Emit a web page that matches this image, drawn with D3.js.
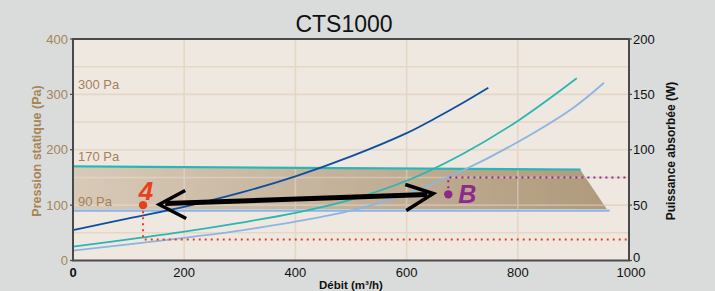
<!DOCTYPE html>
<html>
<head>
<meta charset="utf-8">
<script src="https://cdn.jsdelivr.net/npm/d3@7"></script>
<style>
  body { margin: 0; background: #d9dcdb; }
  svg text { font-family: "Liberation Sans", Arial, Helvetica, sans-serif; }
</style>
</head>
<body>
<div id="chart"></div>
<script>
// ticks
const flowTicks = [0, 200, 400, 600, 800, 1000];
const pressureTicks = [0, 100, 200, 300, 400];
const powerTicks = [0, 50, 100, 150, 200];

// power curves (W) vs débit (m3/h)
const darkQ = [0, 100, 200, 300, 400, 500, 600, 650, 700, 747];
const darkW = [27.5, 38, 48.5, 61, 76, 94, 115, 128, 142, 156];
const tealQ = [0, 100, 200, 300, 400, 500, 600, 700, 800, 906];
const tealW = [12.5, 19, 26, 34, 43, 55, 72, 96, 126, 164.5];
const lightQ = [0, 100, 200, 300, 400, 500, 600, 700, 800, 900, 955];
const lightW = [9, 14.5, 20.5, 27, 35, 45, 60, 81, 107, 138, 160.5];

// pressure lines (Pa)
const pressureLabels = ["300 Pa", "170 Pa", "90 Pa"];
const labelPa = [300, 170, 90];
const line170Q = [0, 913];
const line170P = [170, 164];
const line90Q = [0, 965];
const line90P = [90, 90];
const bandQ = [0, 913, 960, 0];
const bandP = [168, 163, 93, 93];

// annotations
const pointA = { q: 126, p: 100, w: 19, label: "4" };
const pointB = { q: 675, p: 119.5, w: 75, label: "B" };
const arrowQ = [155, 648];
const arrowP = [101, 121];

const width = 715, height = 291;
const svg = d3.select("#chart").append("svg")
    .attr("width", width)
    .attr("height", height);

const x = d3.scaleLinear().domain([0, 1000]).range([73, 629]);
const yP = d3.scaleLinear().domain([0, 400]).range([260.5, 39]);
const yW = d3.scaleLinear().domain([0, 200]).range([260.5, 39]);

const defs = svg.append("defs");
const grad = defs.append("linearGradient")
    .attr("id", "bandGrad")
    .attr("gradientUnits", "userSpaceOnUse")
    .attr("x1", x(0)).attr("x2", x(960)).attr("y1", 0).attr("y2", 0);
grad.append("stop").attr("offset", "0%").attr("stop-color", "#d8cab8");
grad.append("stop").attr("offset", "100%").attr("stop-color", "#b09a7c");

const bandPts = bandQ.map((q, i) => [x(q), yP(bandP[i])]);
defs.append("clipPath").attr("id", "bandClip")
    .append("polygon").attr("points", bandPts.join(" "));

// plot background
svg.append("rect")
    .attr("x", x(0)).attr("y", yP(400))
    .attr("width", x(1000) - x(0)).attr("height", yP(0) - yP(400))
    .attr("fill", "#efe8e1");

function grid(g, color) {
    g.selectAll(".gx").data(flowTicks.slice(1, -1)).enter().append("line")
        .attr("x1", d => x(d)).attr("x2", d => x(d))
        .attr("y1", yP(0)).attr("y2", yP(400))
        .attr("stroke", color).attr("stroke-width", 1.6);
    g.selectAll(".gy").data(d3.range(50, 400, 50)).enter().append("line")
        .attr("x1", x(0)).attr("x2", x(1000))
        .attr("y1", d => yP(d)).attr("y2", d => yP(d))
        .attr("stroke", color).attr("stroke-width", 1.6);
}
grid(svg.append("g"), "#e4d7c5");

// band
svg.append("polygon")
    .attr("points", bandPts.join(" "))
    .attr("fill", "url(#bandGrad)");
grid(svg.append("g").attr("clip-path", "url(#bandClip)").attr("opacity", 0.35), "#f4ece2");

// pressure lines
svg.append("line")
    .attr("x1", x(line170Q[0])).attr("x2", x(line170Q[1]))
    .attr("y1", yP(line170P[0])).attr("y2", yP(line170P[1]))
    .attr("stroke", "#2bb5b3").attr("stroke-width", 2.2);
svg.append("line")
    .attr("x1", x(line90Q[0])).attr("x2", x(line90Q[1]))
    .attr("y1", yP(line90P[0])).attr("y2", yP(line90P[1]))
    .attr("stroke", "#8db5e2").attr("stroke-width", 2.2);

svg.selectAll(".plabel").data(pressureLabels).enter().append("text")
    .attr("x", x(0) + 5)
    .attr("y", (d, i) => yP(labelPa[i]) - 5)
    .attr("font-size", 13)
    .attr("fill", "#a3825a")
    .text(d => d);

// power curves
const line = d3.line().curve(d3.curveCatmullRom.alpha(0.5));
function curve(qs, ws, color) {
    svg.append("path")
        .attr("d", line(qs.map((q, i) => [x(q), yW(ws[i])])))
        .attr("fill", "none")
        .attr("stroke", color)
        .attr("stroke-width", 1.8);
}
curve(lightQ, lightW, "#8db5e2");
curve(tealQ, tealW, "#2bb5b3");
curve(darkQ, darkW, "#0d4f9e");

// point A (red)
const red = "#e8401c";
svg.append("path")
    .attr("d", `M${x(pointA.q)},${yP(pointA.p)} V${yW(pointA.w)} H${x(1000)}`)
    .attr("fill", "none").attr("stroke", red).attr("stroke-width", 2)
    .attr("stroke-dasharray", "2,4");
svg.append("circle").attr("cx", x(pointA.q)).attr("cy", yP(pointA.p)).attr("r", 4.2).attr("fill", red);
svg.append("text")
    .attr("x", x(pointA.q) + 3).attr("y", yP(pointA.p) - 5)
    .attr("text-anchor", "middle")
    .attr("font-size", 26).attr("font-weight", "bold").attr("font-style", "italic")
    .attr("fill", red)
    .text(pointA.label);

// point B (purple)
const purple = "#8c2a8c";
svg.append("path")
    .attr("d", `M${x(pointB.q)},${yP(pointB.p)} V${yW(pointB.w)} H${x(1000)}`)
    .attr("fill", "none").attr("stroke", purple).attr("stroke-width", 2)
    .attr("stroke-dasharray", "2,4");
svg.append("circle").attr("cx", x(pointB.q)).attr("cy", yP(pointB.p)).attr("r", 4.2).attr("fill", purple);
svg.append("text")
    .attr("x", x(pointB.q) + 10).attr("y", yP(pointB.p) + 9)
    .attr("font-size", 25).attr("font-weight", "bold").attr("font-style", "italic")
    .attr("fill", purple)
    .text(pointB.label);

// double arrow
const lx = x(arrowQ[0]), ly = yP(arrowP[0]);
const rx = x(arrowQ[1]), ry = yP(arrowP[1]);
svg.append("path")
    .attr("d", `M${lx + 6},${ly - 1} L${rx - 6},${ry + 1}`)
    .attr("stroke", "#000").attr("stroke-width", 5).attr("fill", "none");
svg.append("path")
    .attr("d", `M${lx + 26},${ly - 14} L${lx},${ly} L${lx + 27},${ly + 14}`)
    .attr("stroke", "#000").attr("stroke-width", 3.5).attr("fill", "none")
    .attr("stroke-linejoin", "miter");
svg.append("path")
    .attr("d", `M${rx - 28},${ry - 9} L${rx},${ry} L${rx - 27},${ry + 17}`)
    .attr("stroke", "#000").attr("stroke-width", 3.5).attr("fill", "none")
    .attr("stroke-linejoin", "miter");

// frame / axes
svg.append("rect")
    .attr("x", x(0)).attr("y", yP(400))
    .attr("width", x(1000) - x(0)).attr("height", yP(0) - yP(400))
    .attr("fill", "none").attr("stroke", "#4a4a4a").attr("stroke-width", 2);

svg.selectAll(".tl").data(pressureTicks).enter().append("text")
    .attr("x", x(0) - 5).attr("y", d => yP(d) + 4.5)
    .attr("text-anchor", "end").attr("font-size", 13).attr("fill", "#a68556")
    .text(d => d);
svg.selectAll(".tkl").data(pressureTicks).enter().append("line")
    .attr("x1", x(0) - 3).attr("x2", x(0)).attr("y1", d => yP(d)).attr("y2", d => yP(d))
    .attr("stroke", "#4a4a4a").attr("stroke-width", 1.2);

svg.selectAll(".tr").data(powerTicks).enter().append("text")
    .attr("x", x(1000) + 4).attr("y", d => yW(d) + (d === 0 ? 1.5 : 4.5))
    .attr("font-size", 13).attr("fill", "#111")
    .text(d => d);
svg.selectAll(".tkr").data(powerTicks).enter().append("line")
    .attr("x1", x(1000)).attr("x2", x(1000) + 3).attr("y1", d => yW(d)).attr("y2", d => yW(d))
    .attr("stroke", "#4a4a4a").attr("stroke-width", 1.2);

svg.selectAll(".tb").data(flowTicks).enter().append("text")
    .attr("x", d => x(d) + (d === 1000 ? 2 : 0)).attr("y", yP(0) + 16.5)
    .attr("text-anchor", "middle").attr("font-size", 13)
    .attr("font-weight", d => d === 0 ? "bold" : "normal")
    .attr("fill", "#111")
    .text(d => d);

// titles
svg.append("text")
    .attr("x", 344).attr("y", 32)
    .attr("text-anchor", "middle").attr("font-size", 23).attr("fill", "#111")
    .text("CTS1000");
svg.append("text")
    .attr("x", 351).attr("y", 288.5)
    .attr("text-anchor", "middle").attr("font-size", 11.5).attr("font-weight", "bold").attr("fill", "#111")
    .text("Débit (m³/h)");
svg.append("text")
    .attr("transform", "translate(41,151) rotate(-90)")
    .attr("text-anchor", "middle").attr("font-size", 12.5).attr("font-weight", "bold").attr("fill", "#a68556")
    .text("Pression statique (Pa)");
svg.append("text")
    .attr("transform", "translate(675,151) rotate(-90)")
    .attr("text-anchor", "middle").attr("font-size", 12).attr("font-weight", "bold").attr("fill", "#111")
    .text("Puissance absorbée (W)");
</script>
</body>
</html>
